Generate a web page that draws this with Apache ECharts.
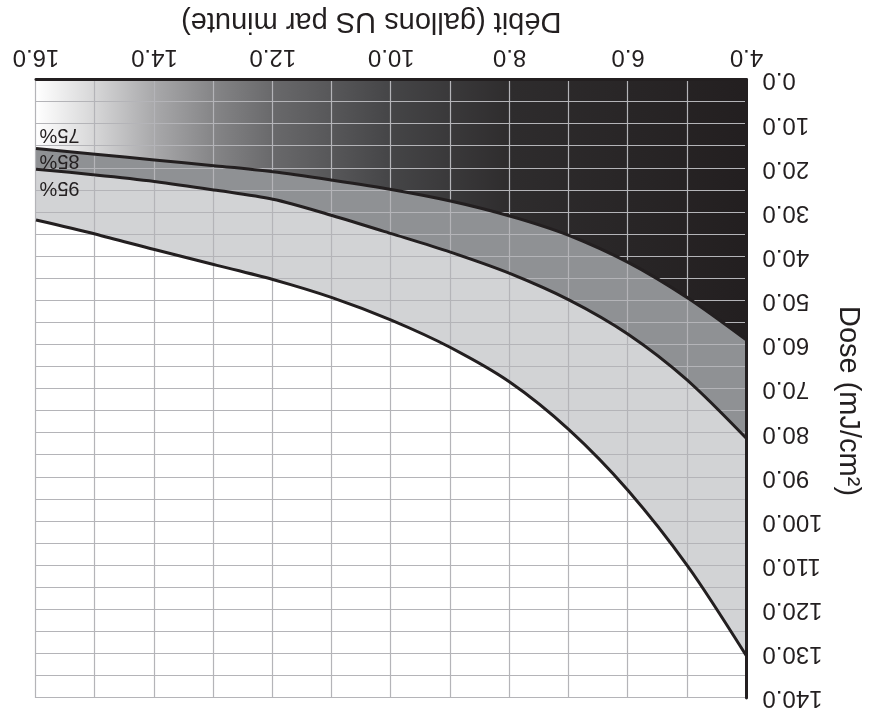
<!DOCTYPE html>
<html>
<head>
<meta charset="utf-8">
<script src="https://cdn.jsdelivr.net/npm/echarts@6/dist/echarts.min.js"></script>
<style>
html,body{margin:0;padding:0;background:#fff;overflow:hidden;}
#c{width:882px;height:717px;transform:rotate(180deg);transform-origin:50% 50%;}
</style>
</head>
<body>
<div id="c"></div>
<script>
// Flow (US gallons per minute)
var flow = [4, 5, 6, 7, 8, 9, 10, 11, 12, 13, 14, 15, 16];
// Dose (mJ/cm2) for each transmittance curve
var dose75 = [58.9, 49.3, 41.3, 35.2, 30.8, 27.4, 24.8, 22.7, 20.8, 19.4, 18.1, 16.8, 15.5];
var dose85 = [81.2, 68.0, 57.6, 49.8, 43.8, 39.0, 34.8, 30.7, 27.0, 24.9, 23.0, 21.5, 20.2];
var dose95 = [130.5, 110.0, 93.0, 79.2, 68.4, 60.6, 54.4, 49.3, 45.2, 41.8, 38.4, 34.9, 31.7];
var curveNames = ['75%', '85%', '95%'];
var labelDose = [12.3, 18.3, 24.4];
var xTitle = 'Débit (gallons US par minute)';
var yTitle = 'Dose (mJ/cm²)';

function pts(arr){ return flow.map(function(f,i){ return [f, arr[i]]; }); }

var ink = '#231f20';
var gridColor = '#b4b4b8';
var font = '"Liberation Sans", Arial, Helvetica, sans-serif';
var SMOOTH = 0.3;

var chart = echarts.init(document.getElementById('c'));

function area(arr, color){
  return {
    type: 'line', data: pts(arr), symbol: 'none', z: 1, silent: true,
    smooth: SMOOTH,
    lineStyle: {width: 0, opacity: 0},
    areaStyle: {color: color, opacity: 1, origin: 'start'}
  };
}
function curve(arr, name, ld){
  return {
    type: 'line', name: name, data: pts(arr), symbol: 'none', z: 5,
    smooth: SMOOTH,
    lineStyle: {color: ink, width: 3},
    markPoint: {
      symbol: 'rect', symbolSize: 1, itemStyle: {color: 'rgba(0,0,0,0)'},
      label: {show: true, position: 'left', distance: 3, formatter: name,
               fontSize: 20, color: ink, fontFamily: font},
      data: [{coord: [flow[flow.length-1], ld]}]
    }
  };
}

var gradient = new echarts.graphic.LinearGradient(0, 0, 1, 0, [
  {offset: 0, color: '#231f20'},
  {offset: 0.33, color: '#2e2c2d'},
  {offset: 0.5, color: '#454547'},
  {offset: 0.667, color: '#69696b'},
  {offset: 0.75, color: '#858587'},
  {offset: 0.833, color: '#a8a8aa'},
  {offset: 0.917, color: '#d6d6d7'},
  {offset: 1, color: '#ffffff'}
]);

chart.setOption({
  animation: false,
  backgroundColor: '#ffffff',
  grid: {left: 135.5, right: 36, top: 19, bottom: 80, containLabel: false},
  xAxis: {
    type: 'value', min: 4, max: 16, interval: 1, z: 3,
    name: xTitle, nameLocation: 'middle', nameGap: 44,
    nameTextStyle: {fontSize: 29, color: ink, fontFamily: font, padding: [0, 0, 0, 40]},
    axisLine: {show: true, onZero: false, lineStyle: {color: ink, width: 3}},
    axisTick: {show: false},
    axisLabel: {fontSize: 24, color: ink, fontFamily: font, margin: 11,
      formatter: function(v){ return (Math.round(v) % 2 === 0) ? v.toFixed(1) : ''; }},
    splitLine: {show: true, lineStyle: {color: gridColor, width: 1.2}}
  },
  yAxis: {
    type: 'value', min: 0, max: 140, interval: 5, z: 3,
    name: yTitle, nameLocation: 'middle', nameGap: 86, nameRotate: 90,
    nameTextStyle: {fontSize: 29, color: ink, fontFamily: font, padding: [0, 0, 0, 24]},
    axisLine: {show: true, onZero: false, lineStyle: {color: ink, width: 3}},
    axisTick: {show: false},
    axisLabel: {fontSize: 24, color: ink, fontFamily: font, margin: 16,
      formatter: function(v){ return (Math.round(v) % 10 === 0) ? v.toFixed(1) : ''; }},
    splitLine: {show: true, lineStyle: {color: gridColor, width: 1.2}}
  },
  series: [
    area(dose95, '#d2d3d5'),
    area(dose85, '#8f9194'),
    area(dose75, gradient),
    curve(dose75, curveNames[0], labelDose[0]),
    curve(dose85, curveNames[1], labelDose[1]),
    curve(dose95, curveNames[2], labelDose[2])
  ]
});
</script>
</body>
</html>
